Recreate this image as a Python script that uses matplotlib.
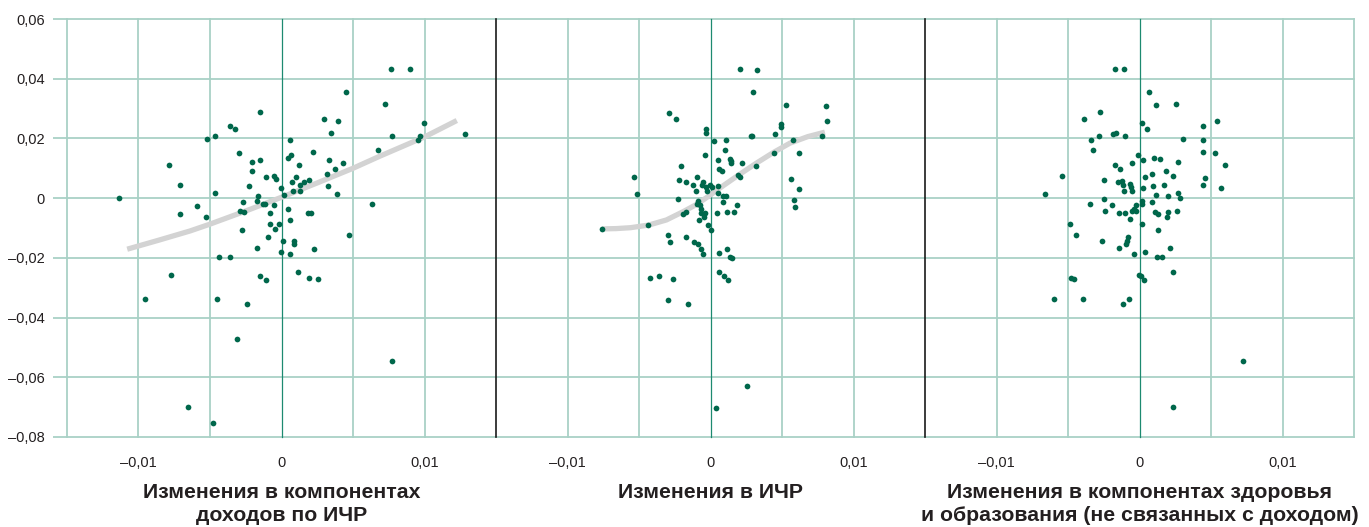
import matplotlib
matplotlib.use('Agg')
import matplotlib.pyplot as plt
from matplotlib import font_manager

# Panel 1: changes in the income component of the HDI
inc_x = [-0.01138, -0.00790, -0.00708, -0.00708, -0.00590, -0.00529, -0.00522, -0.00466, -0.00464, -0.00359,
         -0.00326, -0.00300, -0.00147, -0.00203, -0.00149, -0.00208, -0.00226, -0.00105, -0.00049, -0.00037,
         -0.00163, -0.00170, -0.00268, -0.00287, -0.00263, -0.00131, -0.00117, -0.00054, -0.00002, 0.00014,
         -0.00077, 0.00044, 0.00061, -0.00082, -0.00014, -0.00047, -0.00275, -0.00093, 0.00007, -0.00173,
         0.00084, 0.00084, -0.00002, 0.00056, 0.00229, -0.00436, -0.00359, 0.00058, 0.00047, 0.00068,
         0.00119, 0.00098, 0.00072, 0.00079, 0.00126, 0.00131, 0.00157, 0.00189, 0.00219, 0.00185,
         0.00203, 0.00299, 0.00392, 0.00343, 0.00452, 0.00331, 0.00427, 0.00371, 0.00315, 0.00324,
         0.00385, 0.00471, 0.00634, 0.00678, 0.00722, 0.00765, 0.00900, 0.00771, 0.00953, 0.00967,
         0.00995, 0.01280, -0.00956, -0.00774, -0.00448, -0.00240, -0.00147, -0.00105, 0.00117, 0.00194,
         0.00252, -0.00313, 0.00771, -0.00652, -0.00476]
inc_y = [0.0000, 0.0110, 0.0045, -0.0052, -0.0026, -0.0063, 0.0198, 0.0207, 0.0017, 0.0242,
         0.0233, 0.0151, 0.0288, 0.0121, 0.0129, 0.0091, 0.0040, 0.0071, 0.0074, 0.0065,
         0.0008, -0.0009, -0.0012, -0.0043, -0.0046, -0.0019, -0.0019, -0.0022, 0.0034, 0.0010,
         -0.0049, -0.0036, -0.0072, -0.0087, -0.0087, -0.0102, -0.0106, -0.0129, -0.0143, -0.0168,
         -0.0143, -0.0153, -0.0181, -0.0186, -0.0169, -0.0197, -0.0198, 0.0196, 0.0136, 0.0145,
         0.0110, 0.0072, 0.0054, 0.0025, 0.0044, 0.0023, 0.0055, 0.0062, 0.0154, -0.0049,
         -0.0051, 0.0266, 0.0259, 0.0219, 0.0356, 0.0127, 0.0118, 0.0099, 0.0080, 0.0042,
         0.0015, -0.0123, -0.0020, 0.0161, 0.0314, 0.0434, 0.0432, 0.0208, 0.0194, 0.0209,
         0.0251, 0.0215, -0.0339, -0.0258, -0.0337, -0.0353, -0.0260, -0.0274, -0.0247, -0.0266,
         -0.0270, -0.0472, -0.0545, -0.0699, -0.0753]
inc_fit_x = [-0.01079, -0.00860, -0.00640, -0.00500, -0.00250, 0.00000, 0.00250, 0.00500,
             0.00685, 0.00850, 0.01000, 0.01226]
inc_fit_y = [-0.0171, -0.0141, -0.0110, -0.0087, -0.0043, 0.0003, 0.0051, 0.0100,
             0.0140, 0.0174, 0.0205, 0.0260]

# Panel 2: changes in the HDI
hdi_x = [-0.00760, -0.00538, -0.00515, -0.00434, -0.00289, -0.00238, -0.00203, -0.00222, -0.00171, -0.00229,
         -0.00119, -0.00091, -0.00103, -0.00049, -0.00059, -0.00021, -0.00005, 0.00011, -0.00028, 0.00053,
         0.00053, 0.00088, 0.00107, 0.00086, 0.00182, -0.00089, -0.00091, -0.00070, -0.00068, -0.00068,
         -0.00035, -0.00045, -0.00080, -0.00173, -0.00189, -0.00019, 0.00000, 0.00042, 0.00116, 0.00161,
         -0.00299, -0.00283, -0.00171, -0.00115, -0.00089, -0.00066, -0.00052, 0.00060, 0.00114, 0.00137,
         0.00151, -0.00028, -0.00028, 0.00025, 0.00107, -0.00038, 0.00098, 0.00053, 0.00137, 0.00140,
         0.00144, 0.00219, 0.00056, 0.00081, 0.00193, 0.00203, 0.00205, 0.00324, 0.00296, 0.00280,
         0.00289, 0.00319, 0.00450, 0.00492, 0.00494, 0.00531, 0.00445, 0.00576, 0.00617, 0.00566,
         0.00620, 0.00585, 0.00594, 0.00783, 0.00811, 0.00815, -0.00422, -0.00362, -0.00262, -0.00297,
         -0.00157, 0.00056, 0.00091, 0.00121, 0.00252, 0.00035]
hdi_y = [-0.0103, 0.0071, 0.0014, -0.0090, 0.0286, 0.0265, 0.0109, 0.0061, 0.0053, -0.0002,
         0.0043, 0.0070, 0.0023, 0.0054, 0.0043, 0.0023, 0.0043, 0.0036, 0.0036, 0.0042,
         0.0016, 0.0007, 0.0007, -0.0014, -0.0022, -0.0010, -0.0019, -0.0022, -0.0037, -0.0049,
         -0.0051, -0.0064, -0.0073, -0.0046, -0.0054, -0.0090, -0.0108, -0.0050, -0.0047, -0.0046,
         -0.0124, -0.0146, -0.0130, -0.0146, -0.0154, -0.0170, -0.0187, -0.0184, -0.0170, -0.0198,
         -0.0200, 0.0231, 0.0217, 0.0193, 0.0196, 0.0144, 0.0160, 0.0128, 0.0132, 0.0124,
         0.0117, 0.0119, 0.0097, 0.0090, 0.0079, 0.0072, 0.0433, 0.0430, 0.0355, 0.0207,
         0.0207, 0.0109, 0.0214, 0.0248, 0.0239, 0.0313, 0.0150, 0.0195, 0.0152, 0.0064,
         0.0032, -0.0006, -0.0028, 0.0207, 0.0309, 0.0258, -0.0267, -0.0261, -0.0272, -0.0341,
         -0.0355, -0.0249, -0.0261, -0.0275, -0.0630, -0.0702]
hdi_fit_x = [-0.00760, -0.00660, -0.00560, -0.00430, -0.00308, -0.00190, -0.00090, 0.00000,
             0.00090, 0.00180, 0.00320, 0.00440, 0.00555, 0.00680, 0.00800]
hdi_fit_y = [-0.0103, -0.0102, -0.0099, -0.0090, -0.0073, -0.0045, -0.0019, 0.0011,
             0.0042, 0.0072, 0.0117, 0.0153, 0.0184, 0.0206, 0.0221]

# Panel 3: changes in health and education components (not related to income)
hed_x = [-0.00664, -0.00543, -0.00485, -0.00445, -0.00387, -0.00275, -0.00336, -0.00324, -0.00280, -0.00182,
         -0.00161, -0.00098, -0.00170, -0.00107, 0.00066, 0.00115, 0.00257, 0.00017, 0.00049, 0.00306,
         0.00441, 0.00545, 0.00445, 0.00443, 0.00531, 0.00601, 0.00455, 0.00445, 0.00569, -0.00011,
         0.00021, -0.00053, 0.00098, 0.00143, 0.00271, -0.00170, -0.00137, 0.00185, 0.00084, 0.00035,
         0.00236, -0.00249, -0.00149, -0.00119, -0.00114, -0.00067, -0.00056, -0.00105, -0.00051, 0.00024,
         0.00096, 0.00171, 0.00117, 0.00199, 0.00269, 0.00285, -0.00245, -0.00345, -0.00193, -0.00240,
         -0.00142, -0.00102, -0.00025, -0.00039, -0.00049, -0.00021, 0.00017, 0.00014, 0.00089, -0.00065,
         0.00014, 0.00110, 0.00126, 0.00196, 0.00192, 0.00261, 0.00131, -0.00263, -0.00081, -0.00086,
         -0.00093, -0.00142, -0.00035, 0.00035, 0.00119, 0.00157, 0.00210, -0.00478, -0.00459, -0.00601,
         -0.00392, -0.00116, -0.00072, -0.00002, 0.00007, 0.00033, 0.00234, 0.00725, 0.00231]
hed_y = [0.0015, 0.0073, -0.0087, -0.0122, 0.0266, 0.0288, 0.0194, 0.0161, 0.0209, 0.0215,
         0.0219, 0.0208, 0.0434, 0.0432, 0.0356, 0.0311, 0.0314, 0.0251, 0.0233, 0.0198,
         0.0242, 0.0259, 0.0196, 0.0154, 0.0152, 0.0110, 0.0067, 0.0044, 0.0033, 0.0145,
         0.0127, 0.0118, 0.0135, 0.0130, 0.0121, 0.0111, 0.0099, 0.0091, 0.0080, 0.0071,
         0.0074, 0.0062, 0.0055, 0.0057, 0.0043, 0.0047, 0.0036, 0.0025, 0.0023, 0.0034,
         0.0040, 0.0045, 0.0010, 0.0008, 0.0017, 0.0000, -0.0004, -0.0019, -0.0022, -0.0043,
         -0.0049, -0.0050, -0.0022, -0.0035, -0.0043, -0.0043, -0.0010, -0.0020, -0.0012, -0.0071,
         -0.0087, -0.0047, -0.0053, -0.0046, -0.0062, -0.0044, -0.0106, -0.0143, -0.0129, -0.0142,
         -0.0152, -0.0168, -0.0186, -0.0181, -0.0197, -0.0197, -0.0168, -0.0266, -0.0270, -0.0337,
         -0.0337, -0.0353, -0.0339, -0.0258, -0.0260, -0.0274, -0.0247, -0.0545, -0.0699]

x_titles = ['Изменения в компонентах\nдоходов по ИЧР',
            'Изменения в ИЧР',
            'Изменения в компонентах здоровья\nи образования (не связанных с доходом)']
x_ticks = [-0.01, 0, 0.01]
x_tick_labels = ['–0,01', '0', '0,01']
y_ticks = [-0.08, -0.06, -0.04, -0.02, 0, 0.02, 0.04, 0.06]
y_tick_labels = ['–0,08', '–0,06', '–0,04', '–0,02', '0', '0,02', '0,04', '0,06']

panels = [(inc_x, inc_y, inc_fit_x, inc_fit_y),
          (hdi_x, hdi_y, hdi_fit_x, hdi_fit_y),
          (hed_x, hed_y, None, None)]

installed = {f.name for f in font_manager.fontManager.ttflist}
base_font = 'Liberation Sans' if 'Liberation Sans' in installed else 'DejaVu Sans'

grid_col = '#a9d1c6'
zero_col = '#1d8a70'
dot_col = '#00674b'
text_col = '#231f20'

W, H = 1369, 527
left, top, bottom, pw = 67, 19, 437, 429

fig = plt.figure(figsize=(W / 100, H / 100), dpi=100)

for i, (xs, ys, fx, fy) in enumerate(panels):
    ax = fig.add_axes([(left + i * pw) / W, (H - bottom) / H, pw / W, (bottom - top) / H])
    ax.set_xlim(-0.015, 0.015)
    ax.set_ylim(-0.08, 0.06)
    ax.patch.set_visible(False)
    for s in ax.spines.values():
        s.set_visible(False)

    # grid: outer edges only where there is no separator
    gx = [-0.01, -0.005, 0.005, 0.01]
    if i == 0:
        gx = [-0.015] + gx
    if i == 2:
        gx = gx + [0.015]
    for g in gx:
        ax.axvline(g, color=grid_col, lw=1.3, clip_on=False, zorder=1)
    for g in y_ticks:
        ax.axhline(g, color=grid_col, lw=1.3, clip_on=False, zorder=1)
    ax.axvline(0, color=zero_col, lw=0.9, clip_on=False, zorder=1.5)
    if i > 0:
        ax.axvline(-0.015, color='#1a1a1a', lw=1.2, clip_on=False, zorder=5)

    if fx is not None:
        ax.plot(fx, fy, color='#d3d3d3', lw=3.8, solid_capstyle='butt',
                solid_joinstyle='round', zorder=2)
    ax.scatter(xs, ys, s=17, color=dot_col, linewidths=0, zorder=3)

    ax.set_xticks(x_ticks)
    ax.set_xticklabels(x_tick_labels, fontsize=10.5, family=base_font, color=text_col)
    ax.tick_params(axis='x', length=0, pad=14)
    ax.set_yticks(y_ticks)
    if i == 0:
        ax.set_yticklabels(y_tick_labels, fontsize=10.5, family=base_font, color=text_col)
        ax.tick_params(axis='y', length=10, width=1.3, color=grid_col, pad=6)
    else:
        ax.tick_params(axis='y', length=0, labelleft=False)

    cx = (left + i * pw + pw / 2) / W
    fig.text(cx, 1 - 483 / H, x_titles[i], ha='center', va='top', fontsize=15.3,
             fontweight='bold', family=base_font, color=text_col, linespacing=1.28)

fig.savefig('out.png', dpi=100)
